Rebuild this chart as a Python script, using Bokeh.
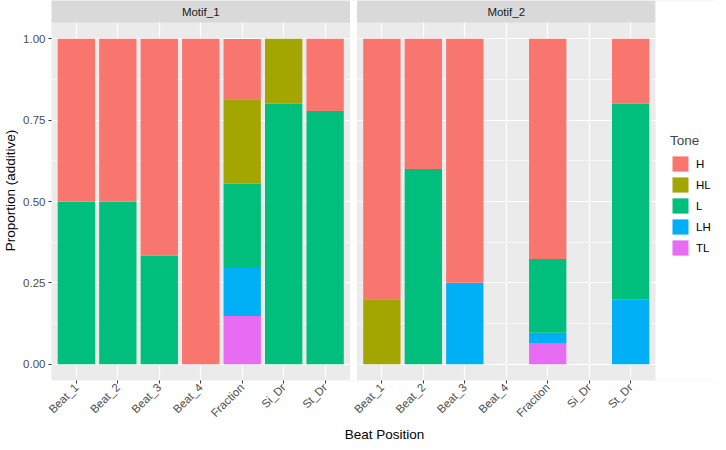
import math
from bokeh.plotting import figure
from bokeh.models import (ColumnDataSource, Range1d, FixedTicker, CustomJSTickFormatter,
                          Legend, LegendItem)
from bokeh.core.properties import value
from bokeh.embed import file_html
from bokeh.resources import INLINE

# ---------------- data ----------------
categories = ["Beat_1", "Beat_2", "Beat_3", "Beat_4", "Fraction", "Si_Dr", "St_Dr"]
panels = ["Motif_1", "Motif_2"]
tones = ["H", "HL", "L", "LH", "TL"]
tone_colors = ["#F8766D", "#A3A500", "#00BF7D", "#00B0F6", "#E76BF3"]

motif1_H = [0.5, 0.5, 0.667, 1.0, 0.185, 0.0, 0.222]
motif1_HL = [0.0, 0.0, 0.0, 0.0, 0.259, 0.2, 0.0]
motif1_L = [0.5, 0.5, 0.333, 0.0, 0.259, 0.8, 0.778]
motif1_LH = [0.0, 0.0, 0.0, 0.0, 0.148, 0.0, 0.0]
motif1_TL = [0.0, 0.0, 0.0, 0.0, 0.148, 0.0, 0.0]

motif2_H = [0.8, 0.4, 0.75, 0.0, 0.677, 0.0, 0.2]
motif2_HL = [0.2, 0.0, 0.0, 0.0, 0.0, 0.0, 0.0]
motif2_L = [0.0, 0.6, 0.0, 0.0, 0.226, 0.0, 0.6]
motif2_LH = [0.0, 0.0, 0.25, 0.0, 0.032, 0.0, 0.2]
motif2_TL = [0.0, 0.0, 0.0, 0.0, 0.065, 0.0, 0.0]

y_ticks = [0.0, 0.25, 0.5, 0.75, 1.0]
y_tick_labels = ["0.00", "0.25", "0.50", "0.75", "1.00"]
y_minor = [0.125, 0.375, 0.625, 0.875]

# ---------------- layout constants ----------------
FONT = "Liberation Sans"
FRAME_W, FRAME_H = 666, 380
STRIP_PX = 22
GAP_PX = 7
LEGEND_PX = 62
EXP_X = 0.6
EXP_Y = 0.05

n = len(categories)
panel_units = (n - 1) + 2 * EXP_X
ppu = (FRAME_W - LEGEND_PX - GAP_PX) / (2 * panel_units)
gap_units = GAP_PX / ppu
legend_units = LEGEND_PX / ppu
offset = panel_units + gap_units
x0 = 1 - EXP_X
x_panels_end = x0 + 2 * panel_units + gap_units
x1 = x_panels_end + legend_units
y0 = -EXP_Y
y_panel_top = 1 + EXP_Y
y1 = y0 + (y_panel_top - y0) / (1 - STRIP_PX / FRAME_H)

xs1 = [i + 1 for i in range(n)]
xs2 = [i + 1 + offset for i in range(n)]
xs_all = xs1 + xs2

src = ColumnDataSource(dict(
    x=xs_all,
    H=motif1_H + motif2_H,
    HL=motif1_HL + motif2_HL,
    L=motif1_L + motif2_L,
    LH=motif1_LH + motif2_LH,
    TL=motif1_TL + motif2_TL,
))

p = figure(width=710, height=434, frame_width=FRAME_W, frame_height=FRAME_H,
           x_range=Range1d(x0, x1), y_range=Range1d(y0, y1),
           output_backend="svg", toolbar_location=None,
           background_fill_color="#EBEBEB", border_fill_color="white",
           outline_line_color=None,
           min_border_top=0, min_border_left=0, min_border_right=0, min_border_bottom=0)

# strips, gap and legend area (layout backgrounds)
p.quad(left=[x0, x0 + offset], right=[x0 + panel_units, x0 + offset + panel_units],
       bottom=[y_panel_top, y_panel_top], top=[y1, y1],
       fill_color="#D9D9D9", line_color=None)
p.quad(left=[x0 + panel_units, x_panels_end], right=[x0 + offset, x1],
       bottom=[y0, y0], top=[y1, y1],
       fill_color="white", line_color=None)
p.text(x=[x0 + panel_units / 2, x0 + offset + panel_units / 2],
       y=[(y_panel_top + y1) / 2] * 2, text=panels,
       text_align="center", text_baseline="middle",
       text_font=value(FONT), text_font_size="11.5px", text_color="#1A1A1A")

# stacked bars (bottom -> top)
stack_order = ["TL", "LH", "L", "HL", "H"]
color_map = dict(zip(tones, tone_colors))
renderers = p.vbar_stack(stack_order, x="x", width=0.9, source=src,
                         fill_color=[color_map[t] for t in stack_order],
                         line_color=None)
rmap = dict(zip(stack_order, renderers))

# grids
p.xgrid.grid_line_color = "white"
p.xgrid.grid_line_width = 1.2
p.ygrid.grid_line_color = "white"
p.ygrid.grid_line_width = 1.2
p.ygrid.minor_grid_line_color = "white"
p.ygrid.minor_grid_line_width = 0.6

# axes
p.xaxis.ticker = FixedTicker(ticks=xs_all, minor_ticks=[])
p.xaxis.formatter = CustomJSTickFormatter(
    args=dict(pos=xs_all, labs=categories * 2),
    code="""
for (let i = 0; i < pos.length; i++) { if (Math.abs(tick - pos[i]) < 1e-6) return labs[i]; }
return "";
""")
p.yaxis.ticker = FixedTicker(ticks=y_ticks, minor_ticks=y_minor)
p.yaxis.formatter = CustomJSTickFormatter(
    args=dict(pos=y_ticks, labs=y_tick_labels),
    code="""
for (let i = 0; i < pos.length; i++) { if (Math.abs(tick - pos[i]) < 1e-6) return labs[i]; }
return "";
""")
p.xaxis.major_label_orientation = math.pi / 4
p.xaxis.axis_label = "Beat Position"
p.yaxis.axis_label = "Proportion (additive)"
for ax in (p.xaxis[0], p.yaxis[0]):
    ax.axis_line_color = None
    ax.major_tick_in = 0
    ax.major_tick_out = 3
    ax.major_tick_line_color = "#333333"
    ax.minor_tick_line_color = None
    ax.major_label_text_font = FONT
    ax.major_label_text_font_size = "11.5px"
    ax.major_label_text_color = "#4D4D4D"
    ax.major_label_standoff = 2
    ax.axis_label_text_font = FONT
    ax.axis_label_text_font_size = "13.5px"
    ax.axis_label_text_font_style = "normal"
    ax.axis_label_text_color = "black"
p.xaxis.axis_label_standoff = 1
p.yaxis.axis_label_standoff = 2

legend_bottom_px = 123
legend = Legend(items=[LegendItem(label=t, renderers=[rmap[t]]) for t in tones],
                title="Tone", location=(FRAME_W - LEGEND_PX + 15, legend_bottom_px),
                glyph_width=20, glyph_height=19, label_height=19, spacing=2,
                label_standoff=6, padding=0, margin=0,
                border_line_color=None, background_fill_alpha=0,
                title_text_font=FONT, title_text_font_size="13.5px",
                title_text_font_style="normal", title_standoff=6,
                label_text_font=FONT, label_text_font_size="11.5px",
                label_text_color="black")
p.add_layout(legend, "center")

open("out.html", "w").write(file_html(p, INLINE))
